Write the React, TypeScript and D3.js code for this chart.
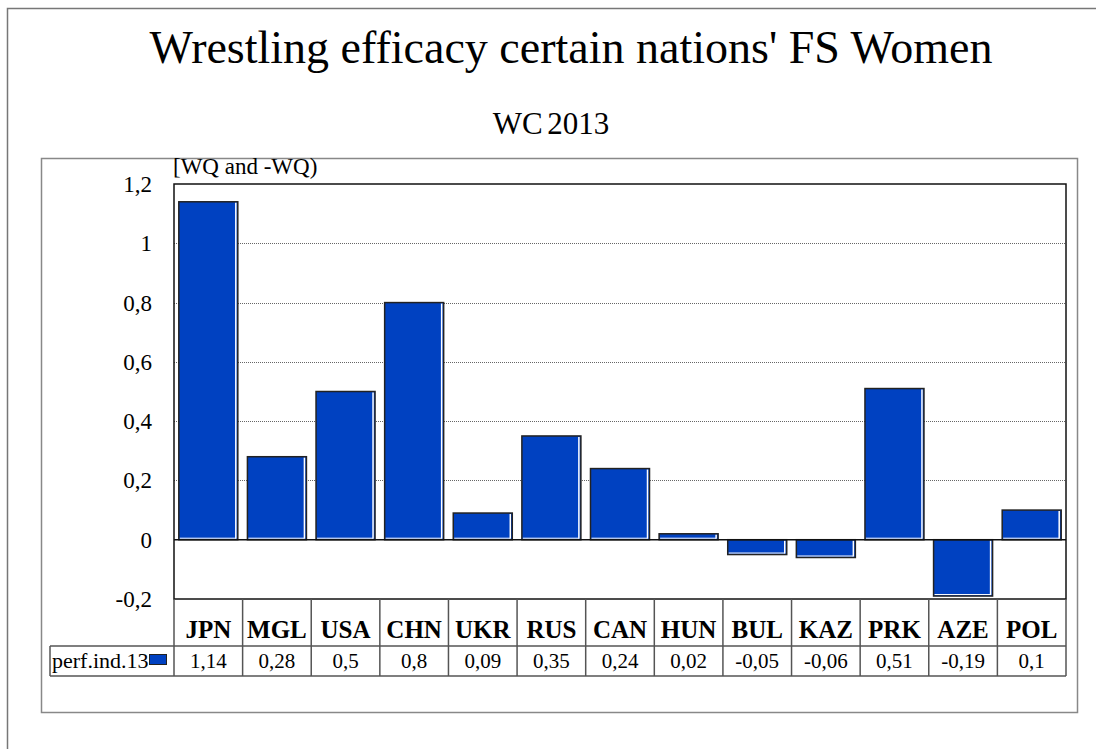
import React, { useEffect, useRef } from "react";
import * as d3 from "d3";

const categories = ["JPN", "MGL", "USA", "CHN", "UKR", "RUS", "CAN", "HUN", "BUL", "KAZ", "PRK", "AZE", "POL"];
const perfValues = [1.14, 0.28, 0.5, 0.8, 0.09, 0.35, 0.24, 0.02, -0.05, -0.06, 0.51, -0.19, 0.1];
const yTicks = [-0.2, 0, 0.2, 0.4, 0.6, 0.8, 1, 1.2];
const seriesName = "perf.ind.13";

const BLUE = "#0041c1";
const FONT = "'Liberation Serif', 'Times New Roman', serif";
const fmt = (v: number) => String(v).replace(".", ",");

export default function App() {
    const ref = useRef<SVGSVGElement>(null);

    useEffect(() => {
        const svg = d3.select(ref.current);
        svg.selectAll("*").remove();

        const plot = { left: 174, right: 1066, top: 184, bottom: 599 };

        // outer and inner frames
        svg.append("rect")
            .attr("x", 7.5).attr("y", 8.5).attr("width", 1100).attr("height", 760)
            .attr("fill", "none").attr("stroke", "#777").attr("stroke-width", 1.5);
        svg.append("rect")
            .attr("x", 41.5).attr("y", 158.5).attr("width", 1036).attr("height", 554)
            .attr("fill", "none").attr("stroke", "#888").attr("stroke-width", 1.5);

        // titles
        svg.append("text")
            .attr("x", 571).attr("y", 63).attr("text-anchor", "middle")
            .style("font-family", FONT).attr("font-size", 46)
            .text("Wrestling efficacy certain nations' FS Women");
        svg.append("text")
            .attr("x", 551).attr("y", 134).attr("text-anchor", "middle")
            .style("font-family", FONT).attr("font-size", 31)
            .attr("word-spacing", -3)
            .text("WC 2013");
        svg.append("text")
            .attr("x", 173).attr("y", 174)
            .style("font-family", FONT).attr("font-size", 23)
            .text("[WQ and -WQ)");

        const x = d3.scaleBand<string>()
            .domain(categories)
            .range([plot.left, plot.right])
            .paddingInner(0.14)
            .paddingOuter(0.07);

        const y = d3.scaleLinear()
            .domain([-0.2, 1.2])
            .range([plot.bottom, plot.top]);

        // gridlines
        svg.append("g")
            .selectAll("line")
            .data(yTicks.filter(t => t > -0.2 && t < 1.2 && t !== 0))
            .join("line")
            .attr("x1", plot.left).attr("x2", plot.right)
            .attr("y1", d => Math.round(y(d)) + 0.5).attr("y2", d => Math.round(y(d)) + 0.5)
            .attr("stroke", "#666").attr("stroke-width", 1).attr("stroke-dasharray", "1,1");

        // y axis labels
        svg.append("g")
            .selectAll("text")
            .data(yTicks)
            .join("text")
            .attr("x", 152).attr("y", d => y(d) + 8)
            .attr("text-anchor", "end")
            .style("font-family", FONT).attr("font-size", 23)
            .text(d => fmt(d));

        // bars
        const bars = svg.append("g");
        categories.forEach((c, i) => {
            const v = perfValues[i];
            const x0 = x(c)!;
            const w = x.bandwidth();
            const top = Math.min(y(v), y(0));
            const h = Math.abs(y(v) - y(0));
            bars.append("rect")
                .attr("x", x0).attr("y", top).attr("width", w).attr("height", h)
                .attr("fill", BLUE).attr("stroke", "#222").attr("stroke-width", 1.5);
            bars.append("line")
                .attr("x1", x0 + w - 2).attr("x2", x0 + w - 2)
                .attr("y1", top + 1).attr("y2", top + h - 1)
                .attr("stroke", "#fff").attr("stroke-width", 1.5);
            bars.append("line")
                .attr("x1", x0 + 1).attr("x2", x0 + w - 2)
                .attr("y1", top + h - 1.5).attr("y2", top + h - 1.5)
                .attr("stroke", "#fff").attr("stroke-width", 1);
        });

        // zero line and plot border
        svg.append("line")
            .attr("x1", plot.left).attr("x2", plot.right)
            .attr("y1", y(0)).attr("y2", y(0))
            .attr("stroke", "#111").attr("stroke-width", 1.5);
        svg.append("rect")
            .attr("x", plot.left).attr("y", plot.top)
            .attr("width", plot.right - plot.left).attr("height", plot.bottom - plot.top)
            .attr("fill", "none").attr("stroke", "#111").attr("stroke-width", 1.5);

        // data table
        const rowTop = plot.bottom, rowMid = 646, rowBot = 676;
        const cellEdges = categories.map(c => x(c)! - x.step() * x.paddingInner() / 2);
        const table = svg.append("g").attr("stroke", "#555").attr("stroke-width", 1.5);
        cellEdges.concat([plot.right]).forEach(ex => {
            table.append("line")
                .attr("x1", ex).attr("x2", ex).attr("y1", rowTop).attr("y2", rowBot);
        });
        table.append("line").attr("x1", 50).attr("x2", plot.right).attr("y1", rowMid).attr("y2", rowMid);
        table.append("line").attr("x1", 50).attr("x2", plot.right).attr("y1", rowBot).attr("y2", rowBot);
        table.append("line").attr("x1", 50).attr("x2", 50).attr("y1", rowMid).attr("y2", rowBot);

        svg.append("g")
            .selectAll("text")
            .data(categories)
            .join("text")
            .attr("x", d => x(d)! + x.bandwidth() / 2).attr("y", 638)
            .attr("text-anchor", "middle")
            .style("font-family", FONT).attr("font-size", 25).attr("font-weight", "bold")
            .text(d => d);

        svg.append("g")
            .selectAll("text")
            .data(perfValues)
            .join("text")
            .attr("x", (d, i) => x(categories[i])! + x.bandwidth() / 2).attr("y", 668)
            .attr("text-anchor", "middle")
            .style("font-family", FONT).attr("font-size", 21)
            .text(d => fmt(d));

        // legend key
        svg.append("text")
            .attr("x", 52).attr("y", 668)
            .style("font-family", FONT).attr("font-size", 22)
            .text(seriesName);
        svg.append("rect")
            .attr("x", 149.5).attr("y", 654.5).attr("width", 17).attr("height", 10)
            .attr("fill", BLUE).attr("stroke", "#222").attr("stroke-width", 1);
    }, []);

    return (
        <svg ref={ref} width={1096} height={749}
             style={{ position: "absolute", left: 0, top: 0, background: "#fff" }} />
    );
}
